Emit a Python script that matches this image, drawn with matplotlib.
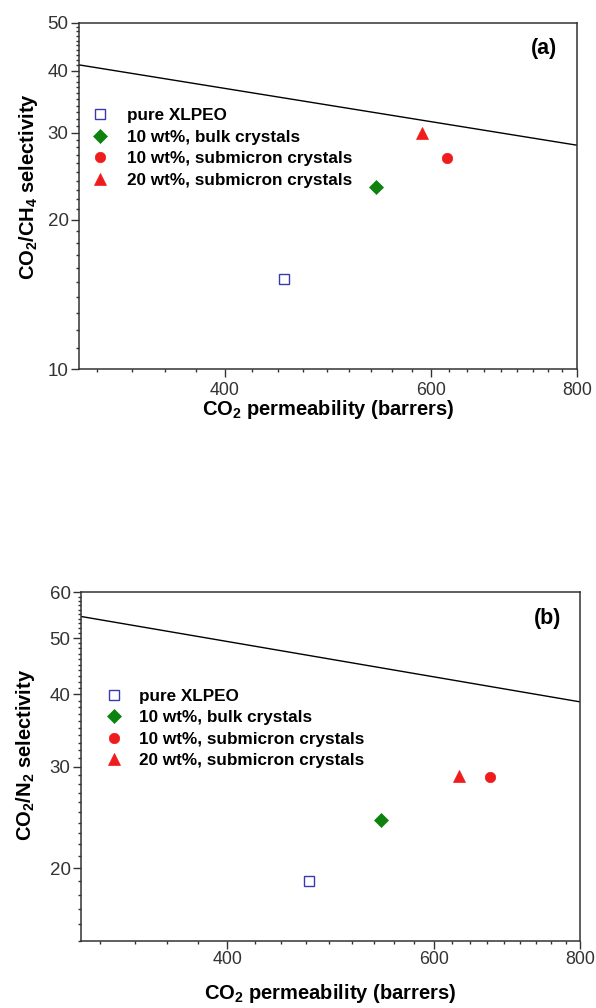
import numpy as np
import matplotlib
matplotlib.use("Agg")
import matplotlib.pyplot as plt
from matplotlib.ticker import FixedLocator, NullFormatter, FixedFormatter

plt.rcParams["font.family"] = ["Liberation Sans", "DejaVu Sans"]
plt.rcParams["mathtext.fontset"] = "custom"
plt.rcParams["mathtext.rm"] = "Liberation Sans"
plt.rcParams["mathtext.bf"] = "Liberation Sans:bold"

# --- data -------------------------------------------------------------
series_labels = ["pure XLPEO", "10 wt%, bulk crystals",
                 "10 wt%, submicron crystals", "20 wt%, submicron crystals"]

# CO2/CH4 panel
perm_ch4 = [449, 539, 619, 590]
sel_ch4 = [15.2, 23.3, 26.7, 30.0]

# CO2/N2 panel
perm_n2 = [470, 541, 670, 631]
sel_n2 = [19.0, 24.2, 28.8, 28.9]

# Robeson upper bound end points
bound_perm = [300, 800]
bound_ch4 = [41.1, 28.3]
bound_n2 = [54.5, 38.8]

x_ticks = [400, 600, 800]
y_ticks_a = [10, 20, 30, 40, 50]
y_ticks_b = [20, 30, 40, 50, 60]

# --- styling ----------------------------------------------------------
styles = [
    dict(marker="s", ms=7.0, mfc="white", mec="#3a3ab0", mew=1.0),
    dict(marker="D", ms=7.0, mfc="#0e820e", mec="#0e820e", mew=0.5),
    dict(marker="o", ms=7.5, mfc="#ee1c1c", mec="#ee1c1c", mew=0.5),
    dict(marker="^", ms=8.5, mfc="#ee1c1c", mec="#ee1c1c", mew=0.5),
]

fig = plt.figure(figsize=(5.96, 10.08), dpi=100)
ax_a = fig.add_axes([79 / 596, 1 - 369 / 1008, (576.7 - 79) / 596, (369 - 22.7) / 1008])
ax_b = fig.add_axes([81 / 596, 1 - 940.7 / 1008, (580 - 81) / 596, (940.7 - 592.3) / 1008])


def style_axes(ax, ylim, yticks, ylabel, tag, leg_anchor, htp,
               xpad, xlab_y, ylab_x, ylab_y):
    ax.set_xscale("log")
    ax.set_yscale("log")
    ax.set_xlim(300, 800)
    ax.set_ylim(*ylim)

    ax.xaxis.set_major_locator(FixedLocator(x_ticks))
    ax.xaxis.set_major_formatter(FixedFormatter([str(v) for v in x_ticks]))
    ax.xaxis.set_minor_locator(FixedLocator(400 + np.arange(-4, 18) * 200 / 9))
    ax.xaxis.set_minor_formatter(NullFormatter())

    ax.yaxis.set_major_locator(FixedLocator(yticks))
    ax.yaxis.set_major_formatter(FixedFormatter([str(v) for v in yticks]))
    ax.yaxis.set_minor_locator(FixedLocator(np.arange(ylim[0], ylim[1] + 1, 1)))
    ax.yaxis.set_minor_formatter(NullFormatter())

    ax.tick_params(which="both", direction="out", top=False, right=False,
                   color="#333333", width=1.0)
    ax.tick_params(which="major", length=5.5, labelcolor="#333333")
    ax.tick_params(axis="x", which="major", labelsize=12.8, pad=xpad)
    ax.tick_params(axis="y", which="major", labelsize=13.5, pad=2)
    ax.tick_params(which="minor", length=2.5)
    for sp in ax.spines.values():
        sp.set_color("#333333")
        sp.set_linewidth(1.1)

    ax.set_xlabel(r"CO$_\mathbf{2}$ permeability (barrers)", fontsize=14.5,
                  fontweight="bold")
    ax.xaxis.set_label_coords(0.5, xlab_y)
    ax.set_ylabel(ylabel, fontsize=14.5, fontweight="bold")
    ax.yaxis.set_label_coords(ylab_x, ylab_y)
    ax.text(0.935, 0.925, tag, transform=ax.transAxes, fontsize=15.5,
            fontweight="bold", ha="center", va="center")
    ax.legend(loc="upper left", bbox_to_anchor=leg_anchor, frameon=False,
              prop=dict(size=12.3, weight="bold"), handlelength=1.0,
              handletextpad=htp, labelspacing=0.38, borderaxespad=0)


for ax, perm, sel, bound in [(ax_a, perm_ch4, sel_ch4, bound_ch4),
                             (ax_b, perm_n2, sel_n2, bound_n2)]:
    ax.plot(bound_perm, bound, color="black", lw=1.0, zorder=2)
    for p, s, lab, st in zip(perm, sel, series_labels, styles):
        ax.plot([p], [s], ls="none", label=lab, zorder=3, **st)

style_axes(ax_a, (10, 50), y_ticks_a, r"CO$_\mathbf{2}$/CH$_\mathbf{4}$ selectivity",
           "(a)", (0.012, 0.773), 1.08, 4, -0.084, -0.079, 0.527)
style_axes(ax_b, (15, 60), y_ticks_b, r"CO$_\mathbf{2}$/N$_\mathbf{2}$ selectivity",
           "(b)", (0.036, 0.743), 0.93, 2, -0.118, -0.089, 0.532)

fig.savefig("out.png", dpi=100)
